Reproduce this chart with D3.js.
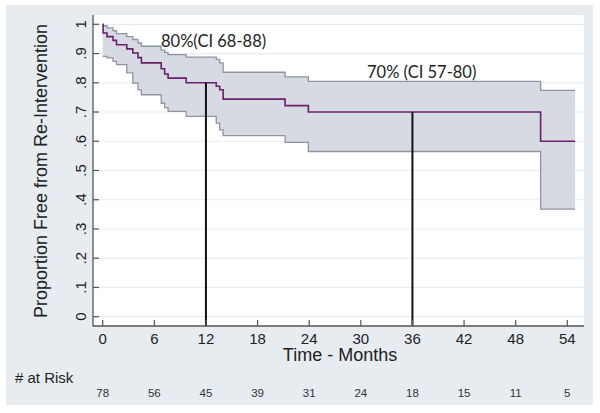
<!DOCTYPE html>
<html><head><meta charset="utf-8">
<script src="https://cdn.jsdelivr.net/npm/d3@7"></script>
<style>html,body{margin:0;padding:0;background:#fff;}svg{display:block;}</style>
</head><body>
<script>
// ---- data ----
const stepTimes = [0, 0.05, 0.5, 1.2, 1.6, 2.8, 3.5, 4.1, 4.5, 6.8, 7.2, 7.6, 9.7, 13.2, 13.6, 14.0, 21.2, 23.9, 50.9];
const survival  = [1.0, 0.970, 0.958, 0.945, 0.930, 0.916, 0.902, 0.886, 0.868, 0.848, 0.830, 0.816, 0.800, 0.788, 0.776, 0.744, 0.722, 0.700, 0.600];
const upperCI   = [1.0, 0.995, 0.988, 0.978, 0.968, 0.958, 0.948, 0.936, 0.925, 0.912, 0.904, 0.896, 0.888, 0.880, 0.868, 0.836, 0.820, 0.805, 0.774];
const lowerCI   = [0.890, 0.890, 0.885, 0.873, 0.862, 0.834, 0.799, 0.776, 0.759, 0.730, 0.715, 0.702, 0.685, 0.662, 0.639, 0.619, 0.596, 0.565, 0.368];
const endTime = 54.9;
const xTicks = [0, 6, 12, 18, 24, 30, 36, 42, 48, 54];
const atRisk = [78, 56, 45, 39, 31, 24, 18, 15, 11, 5];
const yTicks = [0, 0.1, 0.2, 0.3, 0.4, 0.5, 0.6, 0.7, 0.8, 0.9, 1];
const markers = [{t: 12, s: 0.80, label: "80%(CI 68-88)"}, {t: 36, s: 0.70, label: "70% (CI 57-80)"}];

// ---- layout ----
const W = 600, H = 413;
const plot = {left: 93, right: 584, top: 15, bottom: 326};
const x = d3.scaleLinear().domain([0, 54]).range([102.7, 567.3]);
const y = d3.scaleLinear().domain([0, 1]).range([316.7, 24.3]);

const svg = d3.select("body").append("svg").attr("width", W).attr("height", H);
svg.append("rect").attr("x", 6).attr("y", 5).attr("width", 587).attr("height", 400).attr("fill", "#e7ecf1");
svg.append("rect").attr("x", plot.left).attr("y", plot.top).attr("width", plot.right - plot.left).attr("height", plot.bottom - plot.top).attr("fill", "#ffffff");

// gridlines
svg.append("g").selectAll("line").data(yTicks).join("line")
  .attr("x1", plot.left).attr("x2", plot.right)
  .attr("y1", d => y(d)).attr("y2", d => y(d))
  .attr("stroke", "#e9edf1").attr("stroke-width", 1.2);

const pts = arr => stepTimes.map((t, i) => [t, arr[i]]).concat([[endTime, arr[arr.length - 1]]]);
const band = stepTimes.map((t, i) => ({t, lo: lowerCI[i], hi: upperCI[i]})).concat([{t: endTime, lo: lowerCI[lowerCI.length-1], hi: upperCI[upperCI.length-1]}]);

svg.append("path").datum(band)
  .attr("d", d3.area().curve(d3.curveStepAfter).x(d => x(d.t)).y0(d => y(d.lo)).y1(d => y(d.hi)))
  .attr("fill", "#d6dae2");

const line = d3.line().curve(d3.curveStepAfter).x(d => x(d[0])).y(d => y(d[1]));
svg.append("path").datum(pts(upperCI)).attr("d", line).attr("fill", "none").attr("stroke", "#8d95a3").attr("stroke-width", 1.3);
svg.append("path").datum(pts(lowerCI)).attr("d", line).attr("fill", "none").attr("stroke", "#8d95a3").attr("stroke-width", 1.3);
svg.append("path").datum(pts(survival)).attr("d", line).attr("fill", "none").attr("stroke", "#6c1f6e").attr("stroke-width", 1.6);

// marker lines
svg.append("g").selectAll("line").data(markers).join("line")
  .attr("x1", d => x(d.t)).attr("x2", d => x(d.t))
  .attr("y1", d => y(d.s)).attr("y2", plot.bottom)
  .attr("stroke", "#111").attr("stroke-width", 2);

// axes lines
svg.append("line").attr("x1", plot.left).attr("x2", plot.left).attr("y1", plot.top).attr("y2", plot.bottom + 0.5).attr("stroke", "#555").attr("stroke-width", 1.3);
svg.append("line").attr("x1", plot.left).attr("x2", plot.right).attr("y1", plot.bottom).attr("y2", plot.bottom).attr("stroke", "#555").attr("stroke-width", 1.3);

// y ticks
const font = "'Liberation Sans', Arial, sans-serif";
const yt = svg.append("g");
yt.selectAll("line").data(yTicks).join("line")
  .attr("x1", plot.left).attr("x2", plot.left + 6)
  .attr("y1", d => y(d)).attr("y2", d => y(d))
  .attr("stroke", "#555").attr("stroke-width", 1.2);
yt.selectAll("text").data(yTicks).join("text")
  .attr("transform", d => `translate(86,${y(d)}) rotate(-90)`)
  .attr("text-anchor", "middle")
  .attr("font-family", font).attr("font-size", 15).attr("fill", "#222")
  .text(d => d === 0 ? "0" : d === 1 ? "1" : d3.format(".1f")(d).replace(/^0/, ""));

// x ticks
const xt = svg.append("g");
xt.selectAll("line").data(xTicks).join("line")
  .attr("x1", d => x(d)).attr("x2", d => x(d))
  .attr("y1", plot.bottom - 6).attr("y2", plot.bottom)
  .attr("stroke", "#555").attr("stroke-width", 1.2);
xt.selectAll("text").data(xTicks).join("text")
  .attr("x", d => x(d)).attr("y", 343.5)
  .attr("text-anchor", "middle")
  .attr("font-family", font).attr("font-size", 15).attr("fill", "#222")
  .text(d => d);

// titles
svg.append("text").attr("transform", "translate(47,171) rotate(-90)")
  .attr("text-anchor", "middle").attr("font-family", font).attr("font-size", 18).attr("fill", "#222")
  .text("Proportion Free from Re-Intervention");
svg.append("text").attr("x", 340).attr("y", 361)
  .attr("text-anchor", "middle").attr("font-family", font).attr("font-size", 18).attr("fill", "#222")
  .text("Time - Months");

// at risk
svg.append("text").attr("x", 15).attr("y", 382.5)
  .attr("font-family", font).attr("font-size", 15).attr("fill", "#222").text("# at Risk");
svg.append("g").selectAll("text").data(atRisk).join("text")
  .attr("x", (d, i) => x(xTicks[i])).attr("y", 396.5)
  .attr("text-anchor", "middle").attr("font-family", font).attr("font-size", 11.5).attr("fill", "#333")
  .text(d => d);

// annotations
const annFont = "Lato, 'Open Sans', sans-serif";
svg.append("text").attr("x", 161).attr("y", 46.5)
  .attr("font-family", annFont).attr("font-size", 16.5).attr("fill", "#222").text(markers[0].label);
svg.append("text").attr("x", 367).attr("y", 77.5)
  .attr("font-family", annFont).attr("font-size", 16.5).attr("fill", "#222").text(markers[1].label);
</script>
</body></html>
